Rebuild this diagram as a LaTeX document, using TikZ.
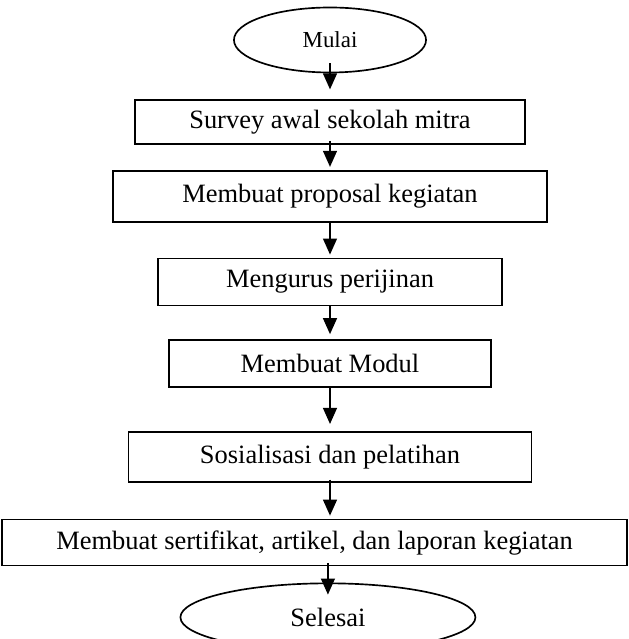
\documentclass[tikz,border=0pt]{standalone}
\usepackage{fontspec}
\setmainfont{Liberation Serif}
\usetikzlibrary{arrows.meta,positioning,shapes.geometric}

\begin{document}
\begin{tikzpicture}[
  >={Triangle[length=7.7pt,width=6.7pt]}, font=\fontsize{12.7}{15}\selectfont,
  terminal/.style={draw,ellipse,line width=.8pt,inner sep=0pt},
  proses/.style={draw,line width=.8pt,inner sep=0pt,align=center},
  alur/.style={->,line width=.7pt}]
  \useasboundingbox (-158.4pt,19.2pt) rectangle (143.04pt,-287.52pt);
  \node[terminal,minimum width=92.2pt,minimum height=31.2pt,font=\fontsize{11}{13}\selectfont] (mulai) {Mulai};
  \node[proses,below=12.5pt of mulai,minimum width=187.2pt,minimum height=21.1pt] (survey) {Survey awal sekolah mitra};
  \node[proses,below=12pt of survey,minimum width=208.3pt,minimum height=24.5pt] (proposal) {Membuat proposal kegiatan};
  \node[proses,below=16.8pt of proposal,minimum width=165.1pt,minimum height=22.6pt] (izin) {Mengurus perijinan};
  \node[proses,below=15.8pt of izin,minimum width=154.6pt,minimum height=22.6pt] (modul) {Membuat Modul};
  \node[proses,below=20.6pt of modul,minimum width=193.4pt,minimum height=24pt] (sosial) {Sosialisasi dan pelatihan};
  \node[proses,below=17.3pt of sosial,xshift=-7.4pt,minimum width=300pt,minimum height=22.1pt] (laporan) {Membuat sertifikat, artikel, dan laporan kegiatan};
  \node[terminal,below=7.7pt of laporan.south -| sosial,anchor=north,xshift=-1pt,minimum width=141.6pt,minimum height=32.6pt] (selesai) {Selesai};
  % panah alur
  \draw[alur,shorten <=-4.8pt,shorten >=4.8pt] (mulai) -- (survey);
  \draw[alur,shorten <=-2pt,shorten >=1.5pt] (survey) -- (proposal);
  \draw[alur,shorten >=1.5pt] (proposal) -- (izin);
  \draw[alur,shorten >=2.5pt] (izin) -- (modul);
  \draw[alur,shorten >=3.4pt] (modul) -- (sosial);
  \draw[alur,shorten <=-1.5pt,shorten >=1.5pt] (sosial) -- (sosial |- laporan.north);
  \draw[alur,shorten <=-1.5pt,shorten >=-5.8pt] (laporan.south -| selesai) -- (selesai);
\end{tikzpicture}
\end{document}
